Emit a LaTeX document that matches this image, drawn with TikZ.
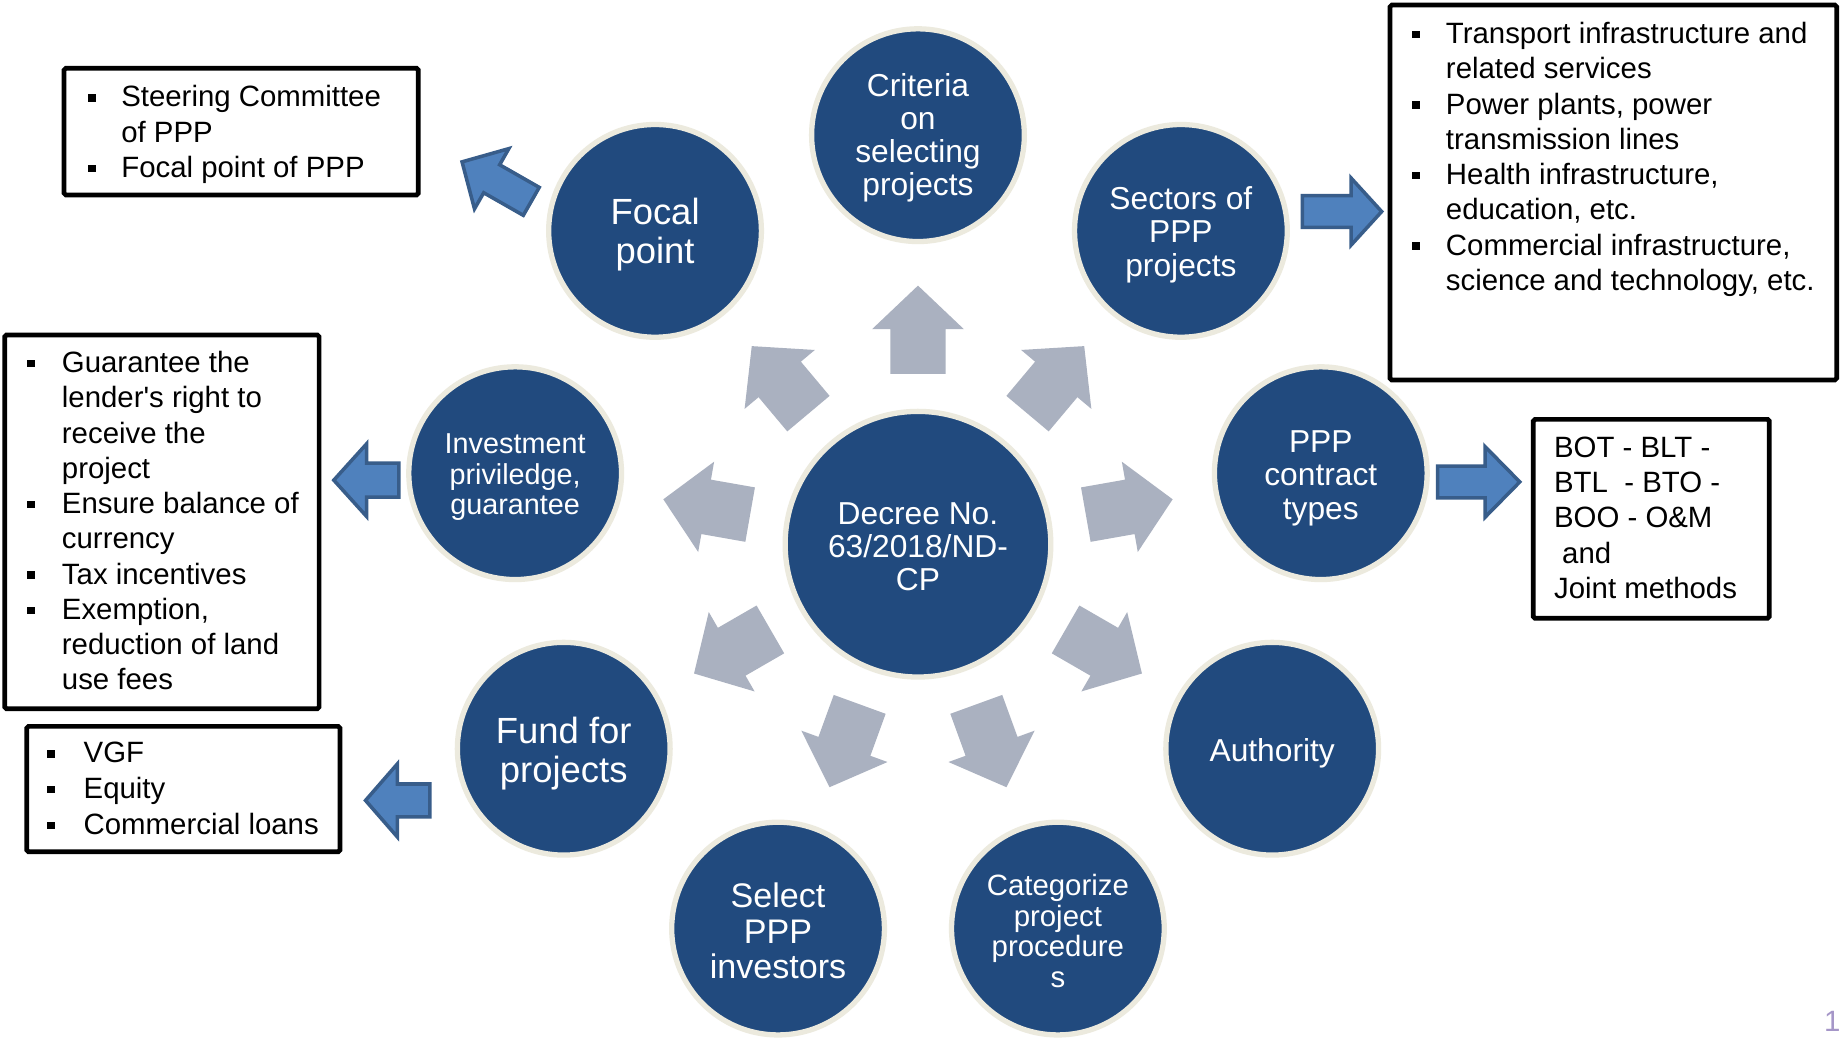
\documentclass[tikz,border=0pt]{standalone}
\usepackage{fontspec}
\setmainfont{Liberation Sans}
\usetikzlibrary{calc}
\definecolor{cblue}{RGB}{33,74,126}
\definecolor{cream}{RGB}{236,234,222}
\definecolor{garrow}{RGB}{170,177,192}
\definecolor{barrow}{RGB}{79,129,189}
\definecolor{bedge}{RGB}{56,93,138}
\definecolor{pgnum}{RGB}{165,150,200}
\newcommand{\sqb}{\rule[4.5pt]{6.5pt}{6.5pt}}
\newcommand{\bitem}[2]{\makebox[#1][l]{\sqb}#2}
\newcommand{\bcont}[2]{\hspace*{#1}#2}
\newcommand{\grayarr}[1]{\fill[garrow, shift={(dec.center)}, rotate=#1] (145,-23.5) -- (183,-23.5) -- (183,-39) -- (220,0) -- (183,39) -- (183,23.5) -- (145,23.5) -- cycle;}
\newcommand{\barr}[7]{\draw[barrowst, shift={(#1,#2)}, rotate=#3] (0,-#6) -- ({#4-#5},-#6) -- ({#4-#5},-#7) -- (#4,0) -- ({#4-#5},#7) -- ({#4-#5},#6) -- (0,#6) -- cycle;}
\begin{document}
\begin{tikzpicture}[x=1pt,y=1pt,
  circ/.style={circle, fill=cblue, draw=cream, line width=4.5pt, inner sep=0pt, minimum size=181pt},
  bigcirc/.style={circ, minimum size=226pt},
  ctext/.style={inner sep=0pt, text=white, align=center},
  barrowst/.style={fill=barrow, draw=bedge, line width=3pt, line join=miter},
  infobox/.style={draw=black, line width=4pt, rounded corners=1.5pt, fill=white, inner sep=0pt},
  boxtext/.style={anchor=base west, inner sep=0pt, text=black, font=\fontsize{25}{30}\selectfont}]
\useasboundingbox (0,0) rectangle (1568,-883);
\fill[white] (0,0) rectangle (1568,-883);

% central circle
\node[bigcirc] (dec) at (781,-463) {};
\node[ctext, font=\fontsize{27}{28}\selectfont] (tdec) at ([yshift=-2.5pt]dec.center) {Decree No.\\63/2018/ND-\\CP};

% outer circles
\node[circ] (crit) at ($(dec.center)+(90:348)$) {};
\node[circ] (sect) at ($(dec.center)+(50:348)$) {};
\node[circ] (cont) at ($(dec.center)+(10:348)$) {};
\node[circ] (auth) at ($(dec.center)+(-30:348)$) {};
\node[circ] (cat) at ($(dec.center)+(-70:348)$) {};
\node[circ] (sel) at ($(dec.center)+(-110:348)$) {};
\node[circ] (fund) at ($(dec.center)+(-150:348)$) {};
\node[circ] (inv) at ($(dec.center)+(170:348)$) {};
\node[circ] (focal) at ($(dec.center)+(130:348)$) {};

\node[ctext, font=\fontsize{27}{28}\selectfont] (tcrit) at ([yshift=-2.5pt]crit.center) {Criteria\\on\\selecting\\projects};
\node[ctext, font=\fontsize{27}{28.5}\selectfont] (tsectc) at ([yshift=-3pt]sect.center) {Sectors of\\PPP\\projects};
\node[ctext, font=\fontsize{27}{28.5}\selectfont] (tcontc) at ([yshift=-4pt]cont.center) {PPP\\contract\\types};
\node[ctext, font=\fontsize{27}{28}\selectfont] (tauth) at ([yshift=-4pt]auth.center) {Authority};
\node[ctext, font=\fontsize{25}{26}\selectfont] (tcat) at ([yshift=-2pt]cat.center) {Categorize\\project\\procedure\\s};
\node[ctext, font=\fontsize{29}{30}\selectfont] (tsel) at ([yshift=-2pt]sel.center) {Select\\PPP\\investors};
\node[ctext, font=\fontsize{31}{33}\selectfont] (tfundc) at ([yshift=-4pt]fund.center) {Fund for\\projects};
\node[ctext, font=\fontsize{24.5}{26}\selectfont] (tinvc) at ([yshift=-3.5pt]inv.center) {Investment\\priviledge,\\guarantee};
\node[ctext, font=\fontsize{31}{33}\selectfont] (tfocal) at ([yshift=-3pt]focal.center) {Focal\\point};

% gray arrows
\grayarr{90}
\grayarr{50}
\grayarr{10}
\grayarr{-30}
\grayarr{-70}
\grayarr{-110}
\grayarr{-150}
\grayarr{170}
\grayarr{130}

% blue arrows
\barr{1108}{-180}{0}{67.5}{26}{13.5}{28.5}
\barr{1223}{-410}{0}{70}{29.5}{13.5}{30}
\barr{339.4}{-408.5}{180}{55.4}{28}{14.4}{31}
\barr{365.7}{-681}{180}{54.7}{27}{14}{31}
\barr{452}{-171.3}{150.3}{67.8}{29}{13.7}{29.5}

% boxes
\node[infobox, minimum width=301.4pt, minimum height=107.8pt] (bsteer) at (205.2,-112) {};
\node[infobox, minimum width=380pt, minimum height=319pt] (bsect) at (1372.6,-163.8) {};
\node[infobox, minimum width=267.5pt, minimum height=318pt] (binv) at (137.75,-444) {};
\node[infobox, minimum width=200.8pt, minimum height=169.2pt] (bcont) at (1404.9,-441.4) {};
\node[infobox, minimum width=266.6pt, minimum height=106.6pt] (bfund) at (156,-671.3) {};

% box texts
\node[boxtext] (tsteer) at (75,-91) {\begin{tabular}[t]{@{}l@{}}
\bitem{28pt}{Steering Committee}\\
\bcont{28pt}{of PPP}\\
\bitem{28pt}{Focal point of PPP}
\end{tabular}};

\node[boxtext] (tsect) at (1201,-37) {\begin{tabular}[t]{@{}l@{}}
\bitem{29pt}{Transport infrastructure and}\\
\bcont{29pt}{related services}\\
\bitem{29pt}{Power plants, power}\\
\bcont{29pt}{transmission lines}\\
\bitem{29pt}{Health infrastructure,}\\
\bcont{29pt}{education, etc.}\\
\bitem{29pt}{Commercial infrastructure,}\\
\bcont{29pt}{science and technology, etc.}
\end{tabular}};

\node[boxtext] (tinv) at (23,-317) {\begin{tabular}[t]{@{}l@{}}
\bitem{29.5pt}{Guarantee the}\\
\bcont{29.5pt}{lender\textquotesingle s right to}\\
\bcont{29.5pt}{receive the}\\
\bcont{29.5pt}{project}\\
\bitem{29.5pt}{Ensure balance of}\\
\bcont{29.5pt}{currency}\\
\bitem{29.5pt}{Tax incentives}\\
\bitem{29.5pt}{Exemption,}\\
\bcont{29.5pt}{reduction of land}\\
\bcont{29.5pt}{use fees}
\end{tabular}};

\node[boxtext] (tcont) at (1322,-389) {\begin{tabular}[t]{@{}l@{}}
BOT - BLT -\\
BTL\ \ - BTO -\\
BOO - O\&M\\
\hspace*{6.9pt}and\\
Joint methods
\end{tabular}};

\node[boxtext, font=\fontsize{25}{30.5}\selectfont] (tfund) at (40,-649) {\begin{tabular}[t]{@{}l@{}}
\bitem{31pt}{VGF}\\
\bitem{31pt}{Equity}\\
\bitem{31pt}{Commercial loans}
\end{tabular}};

% page number
\node[anchor=base east, inner sep=0pt, text=pgnum, font=\fontsize{25}{30}\selectfont] (pg) at (1566,-878) {1};
\end{tikzpicture}
\end{document}
